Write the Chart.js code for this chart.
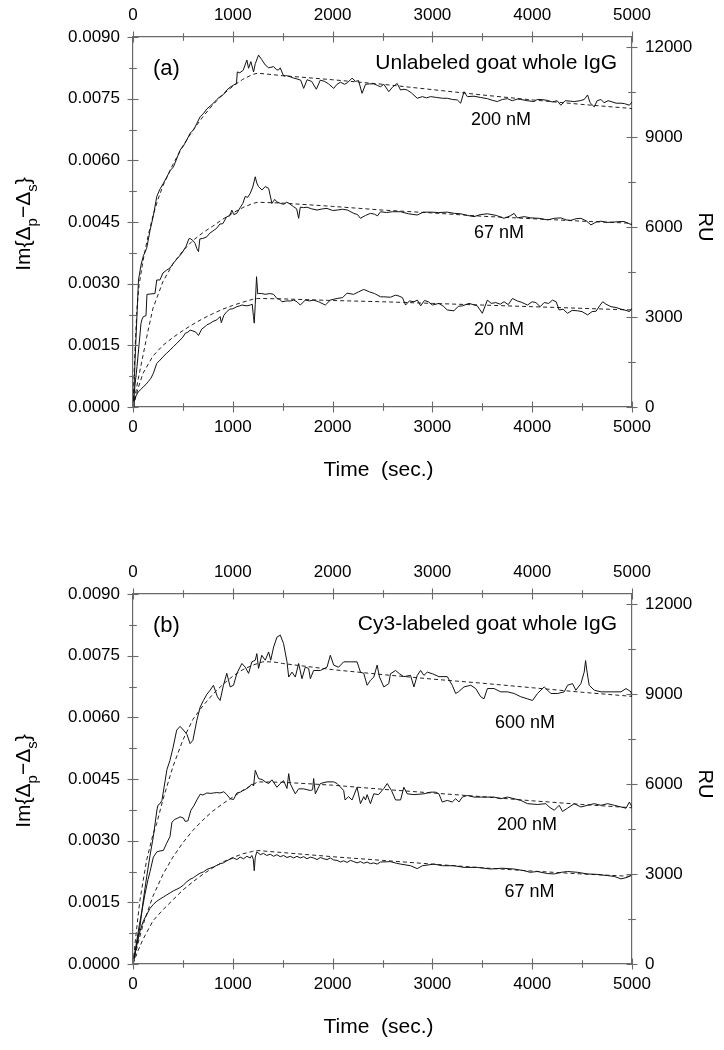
<!DOCTYPE html>
<html>
<head>
<meta charset="utf-8">
<script src="https://cdn.jsdelivr.net/npm/chart.js@4.4.0/dist/chart.umd.min.js"></script>
<style>
  html,body{margin:0;padding:0;background:#fff;}
  #wrap{position:relative;width:724px;height:1050px;}
  canvas{position:absolute;left:0;}
</style>
</head>
<body>
<div id="wrap">
  <canvas id="ca" width="724" height="525" style="top:0"></canvas>
  <canvas id="cb" width="724" height="525" style="top:525px"></canvas>
</div>
<script>
// ---- axis ticks ----
const X_TICKS = [0, 1000, 2000, 3000, 4000, 5000];
const X_MINOR = [500, 1500, 2500, 3500, 4500];
const LEFT_TICKS = [0, 0.0015, 0.003, 0.0045, 0.006, 0.0075, 0.009];
const LEFT_MINOR = [0.00075, 0.00225, 0.00375, 0.00525, 0.00675, 0.00825];
const RU_TICKS = [0, 3000, 6000, 9000, 12000];
const RU_MINOR = [1500, 4500, 7500, 10500];
const RU_MAX = 12330;

// ---- data: [time (s), Im{Δp−Δs} in units of 1e-4] ----
const IM_UNIT = 1e-4;

// Panel (a): unlabeled goat whole IgG
const A200 = [[0,0],[10,4],[20,11],[40,22.5],[55,30.9],[80,34.5],[104,36.8],[137,38.6],[171,43],[204,46.5],[238,51.2],[270,53],[304,54.4],[340,56],[372,57.5],[405,58.4],[440,60.5],[472,62.5],[505,63.5],[540,65],[572,66.6],[610,67.5],[640,69],[673,70.6],[710,71.5],[740,72.5],[773,73.2],[806,73.9],[840,74.8],[873,75.5],[906,76],[940,77.1],[974,77.8],[1007,78.3],[1037,78.7],[1045,81.5],[1070,81.3],[1104,81.9],[1141,84.4],[1158,82.4],[1181,84],[1208,81.5],[1225,83.5],[1258,85.6],[1290,84.5],[1325,83.2],[1360,82.5],[1409,82.8],[1440,82],[1459,82],[1475,82.5],[1509,80.5],[1540,80.6],[1576,80.3],[1610,80],[1643,79.8],[1680,79.5],[1710,77.5],[1744,79.6],[1790,79.2],[1837,77.3],[1877,79.5],[1920,79.2],[1960,78.6],[2011,77.5],[2045,78.5],[2078,79],[2120,78.5],[2150,78.9],[2195,80],[2230,79.2],[2260,79.4],[2295,76.3],[2330,78.5],[2370,78.6],[2413,78.6],[2450,78.2],[2480,77.9],[2513,78.5],[2563,76.7],[2600,77.8],[2647,78.7],[2681,77.1],[2715,77.3],[2748,77.1],[2790,76.4],[2848,75.1],[2900,75.5],[2940,75.2],[2982,75.5],[3040,75.3],[3100,75.1],[3149,75.1],[3200,74.8],[3249,74.7],[3283,73.9],[3317,76.7],[3350,75.5],[3417,75.6],[3480,75.3],[3551,75],[3600,74.6],[3651,74.3],[3700,74.8],[3752,75],[3800,74.5],[3850,74.9],[3886,74.8],[3950,74.5],[4020,74.3],[4050,74.8],[4087,74.8],[4150,74.6],[4200,74.2],[4250,74.5],[4287,73.4],[4330,74.5],[4380,74.4],[4421,74.3],[4480,74.5],[4521,74.8],[4555,75.9],[4580,74],[4622,73],[4650,74.5],[4689,74.8],[4720,74],[4760,74.5],[4790,74.3],[4840,73.9],[4890,73.9],[4924,73.8],[4974,73.4],[5000,74.2]];
const A200_FIT = [[0,0],[20,14],[40,24],[60,29.5],[100,35.5],[150,41.5],[200,46.5],[250,50.5],[300,53.8],[400,59],[500,63.5],[600,67.3],[700,70.6],[800,73.5],[900,76],[1000,78],[1100,79.7],[1200,80.9],[1250,81.2],[1500,80.6],[2000,79.6],[2500,78.5],[3000,77.2],[3500,75.9],[4000,74.7],[4500,73.6],[5000,72.6]];

const A67 = [[0,0],[20,5.3],[40,9.8],[60,15],[80,20.3],[90,21.3],[104,22],[130,22.2],[140,27.4],[180,27.5],[220,27.6],[238,30.9],[270,30.9],[300,32.6],[338,33.3],[370,33.8],[405,35],[440,36],[489,37.4],[530,39],[560,40.9],[572,41],[600,40.5],[622,39.8],[640,38.5],[656,37.8],[670,40.9],[700,41],[740,41.4],[770,42.3],[800,42.8],[840,43.5],[870,44.5],[900,44.6],[940,46.3],[970,46.5],[990,47.9],[1010,46.8],[1040,47.1],[1074,48.5],[1100,49.5],[1124,51.2],[1150,51],[1175,52],[1200,53.5],[1225,56],[1240,54.5],[1258,53.6],[1292,52.8],[1325,53.6],[1359,53.2],[1392,49.5],[1420,50.5],[1442,49.9],[1480,49.5],[1509,49.3],[1540,49.8],[1560,49.6],[1610,48.7],[1640,48.2],[1660,45.9],[1676,48.6],[1710,48.5],[1744,48.6],[1790,48.2],[1844,47.9],[1900,48.2],[1944,48.3],[2000,47.8],[2045,47.9],[2100,48.1],[2150,47.9],[2212,47.1],[2250,46.8],[2279,45.9],[2330,46.6],[2379,47.1],[2420,46.9],[2450,46.5],[2480,47.5],[2540,47.3],[2600,47.5],[2681,47.5],[2760,47],[2848,46.7],[2910,47.4],[2982,47.4],[3060,47.3],[3149,47.4],[3220,47.1],[3283,47],[3350,46.6],[3417,46.3],[3480,46.8],[3551,47],[3640,46.6],[3718,45.9],[3780,46.5],[3819,47.1],[3850,46],[3920,46.3],[3986,46],[4070,45.9],[4154,45.5],[4220,45.9],[4287,46],[4340,45.5],[4388,45.4],[4440,45.8],[4488,45.9],[4540,45.3],[4589,44.3],[4640,45],[4689,45.2],[4750,44.9],[4823,45],[4880,45.1],[4924,45.1],[4970,44.6],[5000,44.3]];
const A67_FIT = [[0,0],[50,6.5],[100,12.5],[150,18.5],[200,24],[300,30.5],[400,34.8],[500,38],[600,40.5],[700,42.4],[800,44],[900,45.7],[1000,47.2],[1100,48.5],[1200,49.5],[1250,49.8],[1500,49.6],[2000,48.8],[2500,47.9],[3000,47.2],[3500,46.4],[4000,45.8],[4500,45.2],[5000,44.7]];

const A20 = [[0,0],[10,1.2],[30,2.7],[53,3.7],[80,4.3],[104,4.95],[130,5.5],[154,6.2],[180,7],[204,8.2],[238,10.6],[271,11.4],[300,12.2],[338,13.1],[370,13.8],[405,14.7],[440,15.5],[472,16.3],[500,17],[522,17.9],[550,18.2],[572,18.7],[600,18.5],[630,18.2],[656,17.4],[690,19],[720,19.5],[740,20],[770,20.3],[800,20.8],[840,21.2],[873,22],[885,20.5],[910,22.3],[940,23.2],[970,23.8],[1000,23.9],[1040,24.4],[1070,24.6],[1091,24.8],[1141,24.6],[1175,24.8],[1195,25],[1207,22],[1215,20.4],[1225,25],[1238,31.7],[1250,27.5],[1258,27.6],[1290,27.6],[1325,27.4],[1370,27.6],[1409,27.4],[1442,26.4],[1470,26.2],[1492,25.6],[1540,25.8],[1580,25.8],[1610,26],[1643,25.6],[1676,24.8],[1726,26],[1770,25.8],[1810,26],[1860,25.6],[1927,24.8],[1977,26],[2045,26.4],[2100,26.6],[2145,27.7],[2210,27.4],[2260,28],[2312,28.6],[2370,28],[2420,27.6],[2480,26.8],[2513,26.8],[2580,26.7],[2630,27.2],[2664,27],[2700,26.6],[2731,24.8],[2770,25.8],[2815,25.6],[2850,26],[2882,24.6],[2920,25.9],[2960,25.6],[3000,24.8],[3065,25.2],[3110,24.5],[3149,23.6],[3216,23.4],[3260,24.5],[3300,24.6],[3367,25.2],[3410,24.9],[3450,24.6],[3500,22.8],[3551,26],[3590,25.2],[3635,25.4],[3680,25],[3718,25.6],[3760,24.9],[3802,26.4],[3850,25.8],[3890,25.5],[3953,24.8],[4000,25.6],[4037,25.4],[4080,24.4],[4120,25.4],[4165,25.2],[4203,26],[4240,25.6],[4270,23.6],[4310,23.8],[4354,22.8],[4400,23.5],[4454,23.4],[4500,23.2],[4555,22.4],[4600,23.2],[4640,23.3],[4675,24.6],[4706,25.6],[4740,25],[4790,24.4],[4840,24.2],[4890,23.8],[4940,23.5],[4974,23.2],[5000,24]];
const A20_FIT = [[0,0],[50,4.5],[100,8.2],[200,12.4],[300,15],[400,16.9],[500,18.6],[600,20.1],[700,21.5],[800,22.7],[900,23.8],[1000,24.7],[1100,25.5],[1200,26.2],[1250,26.4],[1500,26.3],[2000,25.9],[2500,25.6],[3000,25.2],[3500,24.8],[4000,24.4],[4500,24],[5000,23.6]];

// Panel (b): Cy3-labeled goat whole IgG
const B600 = [[0,0],[30,3.8],[70,9.1],[100,15],[137,21.2],[170,26.3],[204,31],[240,37.5],[250,38.6],[270,39],[290,39.8],[310,42.8],[340,47.3],[370,49.5],[400,52.5],[438,56.9],[472,57.8],[505,56.9],[540,55.9],[572,53.6],[600,54.4],[640,59.3],[673,62.5],[706,64.1],[740,65.6],[773,66.6],[806,67.8],[846,65],[873,64.1],[906,67.8],[940,70.7],[974,67.4],[1007,67.8],[1041,70.7],[1091,73.1],[1125,72.2],[1158,70.7],[1191,73.5],[1225,73.9],[1241,75.5],[1258,71.9],[1290,75.1],[1325,73.9],[1359,75.9],[1380,73.9],[1409,77.1],[1442,79.5],[1476,80],[1509,77.9],[1543,73.5],[1560,69.8],[1593,71],[1626,69.8],[1660,73.1],[1693,69.4],[1726,72.2],[1760,71.9],[1777,69.4],[1810,71.4],[1877,71.4],[1944,72.2],[1977,75.1],[2011,72.7],[2060,72.2],[2111,73.5],[2180,73.5],[2245,73.5],[2279,71],[2312,70.7],[2346,67.8],[2379,69],[2413,69.8],[2446,72.7],[2470,69.8],[2513,67.4],[2563,68.2],[2580,70.6],[2631,71.4],[2670,70.6],[2714,69.9],[2781,70.2],[2815,67.4],[2848,70.2],[2882,71.4],[2915,70.2],[2949,71],[3000,70.6],[3065,69.9],[3149,69.9],[3199,67.8],[3233,65.8],[3260,66.2],[3317,67.4],[3384,67.8],[3434,67],[3484,65],[3517,64.5],[3551,67],[3618,67],[3685,66.2],[3752,66.2],[3819,65.8],[3886,65],[3953,64.5],[4003,64.1],[4053,65.8],[4120,67.4],[4154,66.6],[4187,65.8],[4254,65.8],[4321,66.2],[4354,67.8],[4404,68.2],[4437,66.6],[4488,68.2],[4521,71],[4535,73.8],[4550,71],[4571,67.8],[4622,66.6],[4689,66.2],[4790,66.2],[4890,66.2],[4940,67],[4990,66.2],[5000,65]];
const B600_FIT = [[0,0],[25,6],[50,11.5],[70,15.6],[100,20],[137,25.3],[200,31.5],[238,34.2],[300,40],[400,48],[500,54.5],[600,59.5],[700,62.8],[800,65.6],[900,68],[1000,70],[1100,71.6],[1200,72.7],[1300,73.5],[1400,73.5],[1500,73.1],[2000,71.6],[2500,70.4],[3000,69.3],[3500,68.3],[4000,67.2],[4500,66.1],[5000,65.1]];

const B200 = [[0,0],[30,4.5],[60,9],[90,13],[120,17],[150,20.5],[171,22.5],[204,26],[240,27.3],[270,27.5],[304,27.6],[338,29.4],[371,31],[390,34.5],[420,35.2],[450,35.5],[472,35.8],[505,35.5],[522,34.7],[550,34.8],[580,37.4],[610,38.5],[640,39.9],[673,41.3],[700,41.1],[740,41.6],[780,41.5],[806,41.6],[840,41.7],[873,41.6],[910,41.9],[940,41.2],[974,40.2],[1007,40],[1041,41.6],[1075,41.8],[1100,42.2],[1130,42.5],[1158,43],[1191,43.8],[1208,43.3],[1225,47.1],[1258,45.1],[1300,44.8],[1325,44.3],[1359,43.9],[1392,44.8],[1442,43],[1476,43.9],[1509,44.6],[1543,42.7],[1560,46.3],[1575,43.9],[1626,41.4],[1660,42.6],[1710,42.6],[1777,42.2],[1800,42.4],[1810,45.1],[1827,41.4],[1877,43.9],[1944,44.3],[2011,44.3],[2045,43.9],[2111,42.2],[2125,39.9],[2160,40.7],[2195,39.9],[2245,43],[2279,39],[2312,40.7],[2330,39.9],[2346,41.2],[2379,39],[2413,41.4],[2460,41.2],[2513,42.7],[2547,43.9],[2590,42.2],[2631,39.9],[2681,39.9],[2714,43],[2748,41.4],[2815,41.2],[2915,41.4],[2982,41.8],[3030,41.8],[3065,41.4],[3099,39.4],[3149,39.8],[3199,39.4],[3233,40.2],[3266,39.4],[3300,40.6],[3350,41],[3417,40.6],[3484,40.6],[3551,40.6],[3618,40.6],[3685,40.2],[3752,40.6],[3819,40.2],[3886,39.8],[3953,39],[4053,38.8],[4137,39],[4170,38.2],[4221,37.4],[4270,38.6],[4304,37.1],[4354,37.9],[4421,39],[4488,38.2],[4555,38.6],[4622,39],[4689,38.6],[4756,39],[4823,38.6],[4890,38.2],[4940,37.9],[4974,39.4],[5000,38.2]];
const B200_FIT = [[0,0],[50,5],[100,9.5],[200,16.5],[300,21.8],[400,26],[500,29.5],[600,32.5],[700,35],[800,37.2],[900,39],[1000,40.6],[1100,42.2],[1200,43.6],[1250,44.3],[1500,44.2],[2000,43.5],[2500,42.5],[3000,41.6],[3500,40.7],[4000,39.7],[4500,38.8],[5000,38]];

const B67 = [[0,0],[37,4.5],[70,8],[104,10.5],[137,12],[170,13.5],[204,14.5],[240,15.3],[271,15.8],[305,16.3],[338,16.8],[372,17.3],[405,17.8],[440,18.2],[472,18.6],[505,19.2],[539,20],[572,20.6],[606,21],[640,21.6],[673,22.1],[706,22.4],[740,23],[773,23.3],[806,23.6],[840,24],[874,24.4],[906,24.6],[940,25.1],[974,25.5],[1007,25.8],[1041,25.4],[1074,26],[1108,25.6],[1141,26.2],[1175,25.8],[1191,26.4],[1205,25.5],[1215,22.7],[1225,26],[1241,27.3],[1275,26.6],[1308,26.9],[1340,26.4],[1375,26.7],[1409,26.2],[1442,26.6],[1475,26.1],[1509,26.4],[1543,25.9],[1576,26.2],[1610,25.8],[1643,26.2],[1676,25.8],[1710,26.1],[1744,25.6],[1777,26],[1810,25.8],[1844,25.4],[1877,25.9],[1911,25.6],[1944,25.4],[1977,25.8],[2011,25.3],[2045,25.2],[2078,24.8],[2111,25.1],[2145,24.7],[2178,25.2],[2212,24.9],[2245,24.6],[2279,24.9],[2312,24.5],[2346,24.8],[2379,24.4],[2413,24.6],[2446,24.3],[2480,24.8],[2580,24.9],[2640,24.5],[2681,24.3],[2781,23.9],[2848,23.2],[2900,23.9],[3015,24.3],[3100,23.9],[3216,23.9],[3317,23.5],[3450,23.5],[3584,23.1],[3700,23.3],[3819,23.1],[3919,22.7],[3980,22.3],[4050,22.5],[4154,22],[4221,21.9],[4290,22.3],[4354,22.5],[4455,22.3],[4555,21.9],[4650,21.8],[4756,21.5],[4823,21.3],[4890,20.7],[4957,21.1],[5000,21.8]];
const B67_FIT = [[0,0],[50,3.2],[100,6],[200,10.5],[300,13.2],[400,15.6],[500,18],[600,20],[700,21.8],[800,23.4],[900,24.8],[1000,25.9],[1100,26.8],[1200,27.4],[1250,27.6],[1500,27.1],[2000,26.1],[2500,25.2],[3000,24.3],[3500,23.4],[4000,22.6],[4500,21.9],[5000,21.3]];

// ---- styling ----
const FONT = '"Liberation Sans", Arial, Helvetica, sans-serif';
const AXIS = '#6a6a6a';
const INK = '#111';

function toXY(arr) { return arr.map(p => ({x: p[0], y: p[1] * IM_UNIT})); }
function solid(arr) {
  return {data: toXY(arr), borderColor: INK, borderWidth: 1, pointRadius: 0, fill: false, tension: 0, xAxisID: 'x', yAxisID: 'y'};
}
function dashed(arr) {
  return {data: toXY(arr), borderColor: '#222', borderWidth: 1, borderDash: [4, 3], pointRadius: 0, fill: false, tension: 0, xAxisID: 'x', yAxisID: 'y'};
}

function makeScales(topH, bottomH) {
  const tickFont = {family: FONT, size: 17};
  const common = {
    type: 'linear',
    grid: {display: false, drawTicks: false},
    border: {display: true, color: AXIS, width: 1.2}
  };
  return {
    x: Object.assign({}, common, {
      position: 'bottom', min: 0, max: 5000,
      afterBuildTicks: s => { s.ticks = X_TICKS.map(v => ({value: v})); },
      ticks: {padding: 10, font: tickFont, color: '#000', maxRotation: 0, autoSkip: false, callback: v => String(v)},
      afterFit: s => { s.height = bottomH; }
    }),
    x2: Object.assign({}, common, {
      position: 'top', min: 0, max: 5000,
      afterBuildTicks: s => { s.ticks = X_TICKS.map(v => ({value: v})); },
      ticks: {padding: 11, font: tickFont, color: '#000', maxRotation: 0, autoSkip: false, callback: v => String(v)},
      afterFit: s => { s.height = topH; }
    }),
    y: Object.assign({}, common, {
      position: 'left', min: 0, max: 0.009,
      afterBuildTicks: s => { s.ticks = LEFT_TICKS.map(v => ({value: v})); },
      ticks: {padding: 13, font: tickFont, color: '#000', autoSkip: false, callback: v => Number(v).toFixed(4)},
      afterFit: s => { s.width = 133; }
    }),
    y2: Object.assign({}, common, {
      position: 'right', min: 0, max: RU_MAX,
      afterBuildTicks: s => { s.ticks = RU_TICKS.map(v => ({value: v})); },
      ticks: {padding: 13, font: tickFont, color: '#000', autoSkip: false, callback: v => String(v)},
      afterFit: s => { s.width = 92; }
    })
  };
}

const decor = {
  id: 'decor',
  afterDraw(chart) {
    const o = chart.options.plugins.decor;
    const {ctx, chartArea: a, scales: s} = chart;
    ctx.save();
    ctx.strokeStyle = AXIS;
    ctx.lineWidth = 1.1;
    const vt = (px, y, h) => { const X = Math.round(px) + 0.5; ctx.beginPath(); ctx.moveTo(X, y - h); ctx.lineTo(X, y + h); ctx.stroke(); };
    const ht = (x, py, h) => { const Y = Math.round(py) + 0.5; ctx.beginPath(); ctx.moveTo(x - h, Y); ctx.lineTo(x + h, Y); ctx.stroke(); };
    X_TICKS.forEach(v => { const p = s.x.getPixelForValue(v); vt(p, a.top, 5.5); vt(p, a.bottom, 5.5); });
    X_MINOR.forEach(v => { const p = s.x.getPixelForValue(v); vt(p, a.top, 3.8); vt(p, a.bottom, 3.8); });
    LEFT_TICKS.forEach(v => ht(a.left, s.y.getPixelForValue(v), 5.5));
    LEFT_MINOR.forEach(v => ht(a.left, s.y.getPixelForValue(v), 3.8));
    RU_TICKS.forEach(v => ht(a.right, s.y2.getPixelForValue(v), 5.5));
    RU_MINOR.forEach(v => ht(a.right, s.y2.getPixelForValue(v), 3.8));

    ctx.fillStyle = '#000';
    // panel letter
    ctx.font = '22px ' + FONT;
    ctx.textAlign = 'left'; ctx.textBaseline = 'middle';
    ctx.fillText(o.letter, a.left + 20, a.top + 32);
    // panel title
    ctx.font = '21px ' + FONT;
    ctx.textAlign = 'right'; ctx.textBaseline = 'alphabetic';
    ctx.fillText(o.title, a.right - 15, a.top + o.titleDy);
    // concentration labels
    ctx.font = '18px ' + FONT;
    ctx.textAlign = 'center'; ctx.textBaseline = 'middle';
    o.labels.forEach(l => ctx.fillText(l.text, s.x.getPixelForValue(l.t), s.y.getPixelForValue(l.v)));
    // x title
    ctx.font = '21px ' + FONT;
    ctx.textAlign = 'center'; ctx.textBaseline = 'alphabetic';
    ctx.fillText('Time  (sec.)', (a.left + a.right) / 2 - 4, a.bottom + 69);
    // right title
    ctx.save();
    ctx.translate(705, (a.top + a.bottom) / 2 + 5);
    ctx.rotate(Math.PI / 2);
    ctx.font = '20px ' + FONT;
    ctx.textAlign = 'center'; ctx.textBaseline = 'middle';
    ctx.fillText('RU', 0, 0);
    ctx.restore();
    // left title with subscripts
    ctx.save();
    ctx.translate(30, (a.top + a.bottom) / 2 + 2);
    ctx.rotate(-Math.PI / 2);
    const big = '21px ' + FONT, small = '15px ' + FONT;
    const parts = [['Im{\u0394', 0], ['p', 1], ['\u2212\u0394', 0], ['s', 1], ['}', 0]];
    let w = 0;
    parts.forEach(p => { ctx.font = p[1] ? small : big; w += ctx.measureText(p[0]).width; });
    let x = -w / 2;
    ctx.textAlign = 'left'; ctx.textBaseline = 'alphabetic';
    parts.forEach(p => { ctx.font = p[1] ? small : big; ctx.fillText(p[0], x, p[1] ? 7 : 0); x += ctx.measureText(p[0]).width; });
    ctx.restore();
    ctx.restore();
  }
};

function makeChart(id, datasets, topH, bottomH, decorOpts) {
  return new Chart(document.getElementById(id), {
    type: 'line',
    data: {datasets},
    options: {
      responsive: false, devicePixelRatio: 1, animation: false,
      layout: {padding: 0},
      parsing: true,
      scales: makeScales(topH, bottomH),
      plugins: {legend: {display: false}, tooltip: {enabled: false}, decor: decorOpts}
    },
    plugins: [decor]
  });
}

makeChart('ca',
  [solid(A200), solid(A67), solid(A20), dashed(A200_FIT), dashed(A67_FIT), dashed(A20_FIT)],
  37, 118,
  {letter: '(a)', title: 'Unlabeled goat whole IgG', titleDy: 32,
   labels: [{text: '200 nM', t: 3687, v: 0.00698}, {text: '67 nM', t: 3667, v: 0.00423}, {text: '20 nM', t: 3667, v: 0.00187}]});

makeChart('cb',
  [solid(B600), solid(B200), solid(B67), dashed(B600_FIT), dashed(B200_FIT), dashed(B67_FIT)],
  69, 86,
  {letter: '(b)', title: 'Cy3-labeled goat whole IgG', titleDy: 36,
   labels: [{text: '600 nM', t: 3928, v: 0.00586}, {text: '200 nM', t: 3948, v: 0.00338}, {text: '67 nM', t: 3973, v: 0.00176}]});
</script>
</body>
</html>
